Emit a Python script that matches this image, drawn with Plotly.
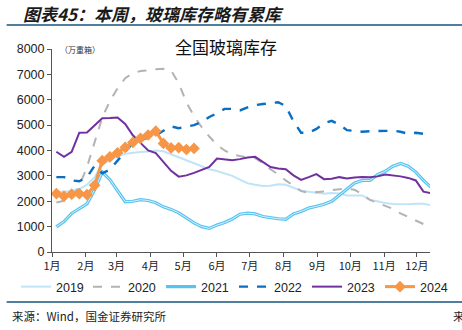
import pandas as pd
import plotly.graph_objects as go

# Weekly national float-glass inventory (10k weight cases), one list per year
inv_2019 = [2370, 2370, 2400, 2480, 2650, 2950, 3450, 3620, 3760, 3870, 3910, 3940, 3960,
            4000, 3970, 3850, 3720, 3600, 3480, 3370, 3260, 3190, 3100, 3000, 2850, 2710,
            2650, 2600, 2610, 2670, 2650, 2520, 2420, 2370, 2320, 2300, 2330, 2310, 2230,
            2220, 2230, 2060, 1990, 1930, 1890, 1880, 1880, 1900, 1900, 1840, 1840]
inv_2020 = [1950, 2020, 2150, 2600, 3350, 4350, 5300, 5950, 6450, 6850, 7050, 7130, 7180,
            7200, 7220, 7150, 6650, 5900, 5350, 4920, 4550, 4220, 4000, 3850, 3780, 3720,
            3700, 3500, 3260, 3060, 2820, 2600, 2400, 2330, 2350, 2380, 2440, 2480, 2500,
            2450, 2280, 2050, 1930, 1800, 1700, 1520, 1370, 1230, 1100, 980, 900]
inv_2021 = [990, 1200, 1520, 1700, 1900, 2450, 3150, 2850, 2400, 1980, 2000, 2060, 2030,
            1940, 1780, 1680, 1540, 1340, 1150, 1000, 930, 1060, 1160, 1300, 1490, 1530,
            1500, 1400, 1350, 1310, 1290, 1500, 1600, 1730, 1800, 1880, 2000, 2230, 2480,
            2720, 2820, 2820, 3050, 3180, 3380, 3490, 3380, 3150, 2820, 2550, 2400]
inv_2022 = [2950, 2950, 2820, 2790, 2950, 3400, 3100, 3250, 3600, 3950, 4300, 4420, 4500,
            4600, 4780, 4950, 4880, 4950, 5000, 5120, 5320, 5470, 5640, 5640, 5580, 5700,
            5790, 5830, 5860, 5900, 5750, 5150, 4700, 4700, 4850, 5070, 5170, 5020, 4800,
            4760, 4740, 4760, 4770, 4780, 4780, 4740, 4660, 4700, 4660, 4560, 4500]
inv_2023 = [3950, 3750, 3950, 4700, 4710, 5000, 5270, 5280, 5300, 5050, 4600, 4300, 4000,
            3900, 3550, 3200, 2970, 3020, 3120, 3230, 3350, 3680, 3660, 3620, 3660, 3720,
            3750, 3560, 3350, 3290, 3260, 3020, 2840, 2950, 3070, 2870, 2890, 2950, 2900,
            2940, 2960, 2950, 2980, 3050, 3020, 2980, 2920, 2820, 2380, 2300, 2250]
inv_2024 = [2300, 2200, 2280, 2300, 2260, 2630, 3600, 3750, 3910, 4120, 4320, 4480, 4610,
            4760, 4280, 4100, 4110, 4040, 4080]

years = ["2019", "2020", "2021", "2022", "2023", "2024"]
y_ticks = [0, 1000, 2000, 3000, 4000, 5000, 6000, 7000, 8000]
month_labels = [f"{m}月" for m in range(1, 13)]


def week_dates(values):
    # every series is laid on one common calendar year, one point per week
    return pd.date_range("2021-01-05", periods=len(values), freq="7D")


# one single-entry legend per year so the row keeps an even spacing
legend_ids = ["legend", "legend2", "legend3", "legend4", "legend5", "legend6"]

fig = go.Figure()

fig.add_trace(go.Scatter(x=week_dates(inv_2019), y=inv_2019, name=years[0], mode="lines",
                         legend=legend_ids[0], line=dict(color="#bfe4f8", width=2)))
fig.add_trace(go.Scatter(x=week_dates(inv_2020), y=inv_2020, name=years[1], mode="lines",
                         legend=legend_ids[1],
                         line=dict(color="#b3b3b3", width=2, dash="dash")))
fig.add_trace(go.Scatter(x=week_dates(inv_2021), y=inv_2021, name=years[2], mode="lines",
                         legend=legend_ids[2], line=dict(color="#56c3f0", width=3.2)))
fig.add_trace(go.Scatter(x=week_dates(inv_2021), y=inv_2021, name=years[2], mode="lines",
                         line=dict(color="#d9f1fc", width=1), showlegend=False,
                         hoverinfo="skip"))
fig.add_trace(go.Scatter(x=week_dates(inv_2022), y=inv_2022, name=years[3], mode="lines",
                         legend=legend_ids[3],
                         line=dict(color="#0a6fc2", width=2.4, dash="dash")))
fig.add_trace(go.Scatter(x=week_dates(inv_2023), y=inv_2023, name=years[4], mode="lines",
                         legend=legend_ids[4], line=dict(color="#7030a0", width=2)))
fig.add_trace(go.Scatter(x=week_dates(inv_2024), y=inv_2024, name=years[5], mode="lines+markers",
                         legend=legend_ids[5], line=dict(color="#f79646", width=3),
                         marker=dict(symbol="diamond", size=9, color="#f79646")))

axis_font = dict(family="Liberation Sans, Arial, sans-serif", size=12.5, color="#222222")

fig.update_xaxes(
    type="date",
    range=["2021-01-01", "2021-12-13"],
    tickvals=pd.date_range("2021-01-01", periods=12, freq="MS"),
    ticktext=month_labels,
    ticks="outside", ticklen=4, tickcolor="#555555",
    showline=True, linecolor="#555555", linewidth=1,
    showgrid=False, zeroline=False,
    tickfont=dict(family="Noto Sans CJK SC, sans-serif", size=11, color="#222222"),
)
fig.update_yaxes(
    range=[0, 8000],
    tickvals=y_ticks,
    ticks="outside", ticklen=4, tickcolor="#555555",
    showline=True, linecolor="#555555", linewidth=1,
    showgrid=False, zeroline=False,
    tickfont=axis_font,
)

legend_font = dict(family="Liberation Sans, Arial, sans-serif", size=12.5, color="#222222")
legend_left_px = [16, 88, 161, 234, 307, 380]
legends = {}
for lid, left in zip(legend_ids, legend_left_px):
    legends[lid] = dict(orientation="h", xref="container", yref="container",
                        x=left / 462, y=1 - 287 / 330, xanchor="left", yanchor="middle",
                        itemwidth=30, font=legend_font, bgcolor="rgba(0,0,0,0)",
                        borderwidth=0)

rule_color = "#4f7f9c"
fig.update_layout(
    width=462, height=330,
    margin=dict(l=52, r=32, t=49, b=78, autoexpand=False),
    paper_bgcolor="white", plot_bgcolor="white",
    showlegend=True,
    **legends,
    shapes=[
        dict(type="line", xref="paper", yref="paper", x0=-0.12, x1=1.2,
             y0=1 + 24 / 203, y1=1 + 24 / 203, line=dict(color=rule_color, width=2.2)),
        dict(type="line", xref="paper", yref="paper", x0=-0.12, x1=1.2,
             y0=-50 / 203, y1=-50 / 203, line=dict(color=rule_color, width=1.8)),
    ],
    annotations=[
        dict(text="<b><i>图表45：本周，玻璃库存略有累库</i></b>", xref="paper", yref="paper",
             x=-0.082, y=1 + 36 / 203, xanchor="left", yanchor="middle", showarrow=False,
             font=dict(family="Noto Sans CJK SC, sans-serif", size=17, color="#1a1a1a")),
        dict(text="全国玻璃库存", xref="paper", yref="paper", x=0.46, y=1 + 2.5 / 203,
             xanchor="center", yanchor="middle", showarrow=False,
             font=dict(family="Noto Sans CJK SC, sans-serif", size=17, color="#111111")),
        dict(text="（万重箱）", xref="paper", yref="paper", x=0.015, y=1.0,
             xanchor="left", yanchor="middle", showarrow=False,
             font=dict(family="Noto Sans CJK SC, sans-serif", size=8, color="#333333")),
        dict(text="来源：Wind，国金证券研究所", xref="paper", yref="paper", x=-0.11,
             y=-64 / 203, xanchor="left", yanchor="middle", showarrow=False,
             font=dict(family="Noto Sans CJK SC, sans-serif", size=11.5, color="#222222")),
        dict(text="来", xref="paper", yref="paper", x=1.055, y=-64 / 203,
             xanchor="left", yanchor="middle", showarrow=False,
             font=dict(family="Noto Sans CJK SC, sans-serif", size=11.5, color="#222222")),
    ],
)

fig.write_html("out.html")
